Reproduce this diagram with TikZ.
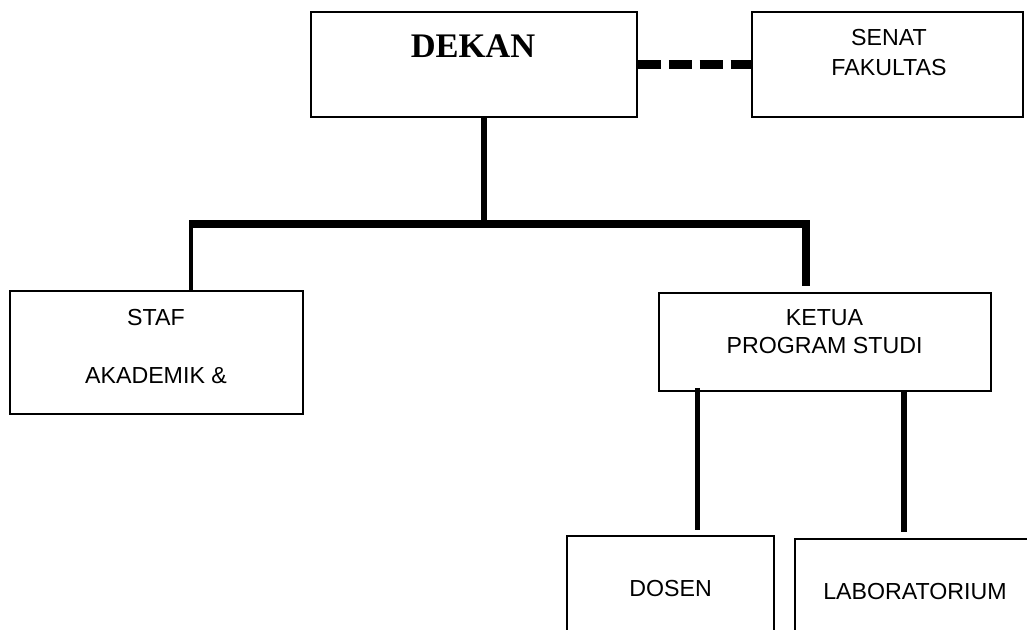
\documentclass[tikz,border=0pt]{standalone}
\usepackage{fontspec}
\newfontfamily\arialfont{Liberation Sans}
\newfontfamily\seriffont{Liberation Serif}
\usetikzlibrary{calc}
\tikzset{
    block/.style = {draw, rectangle, line width=1.1pt, inner sep=0pt},
    caption/.style = {align=center, inner sep=0pt, font=\arialfont\fontsize{16.5}{20}\selectfont},
    title/.style = {inner sep=0pt, font=\seriffont\bfseries\fontsize{24.5}{29}\selectfont},
    link/.style = {line width=3.6pt},
    bar/.style = {line width=5.7pt},
    dashlink/.style = {line width=5.7pt, dash pattern=on 16.3pt off 5.7pt}
}

\begin{document}
\begin{tikzpicture}[x=0.025cm, y=-0.025cm]
    \useasboundingbox (0,0) rectangle (1027,630);
    \clip (0,0) rectangle (1027,630);
    % Kotak
    \node [block, minimum width=8.15cm, minimum height=2.625cm] (dekan) at (474,64.5) {};
    \node [block, minimum width=6.775cm, minimum height=2.625cm] (senat) at (887.5,64.5) {};
    \node [block, minimum width=7.325cm, minimum height=3.075cm] (staf) at (156.5,352.5) {};
    \node [block, minimum width=8.3cm, minimum height=2.45cm] (kaprodi) at (825,342) {};
    \node [block, minimum width=5.175cm, minimum height=3.1cm] (dosen) at (670.5,598) {};
    \node [block, minimum width=6.625cm, minimum height=3.025cm] (lab) at (927.5,599.5) {};
    % Teks
    \node [title] (dekantext) at (473,46) {DEKAN};
    \node [caption] (senattext) at (889,52.5) {SENAT\\[2pt]FAKULTAS};
    \node [caption] (staftext) at (156,346.5) {STAF\\[21.3pt]AKADEMIK \&};
    \node [caption] (kaproditext) at (824.5,331.5) {KETUA\\PROGRAM STUDI};
    \node [caption] (dosentext) at (670.5,588.5) {DOSEN};
    \node [caption] (labtext) at (915,591.5) {LABORATORIUM};
    % Garis
    \coordinate (junction) at (484,224);
    \coordinate (stafup) at ($(staf.north)+(34.5,0)$);
    \coordinate (prodiup) at ($(kaprodi.north)+(-19.5,0)$);
    \coordinate (dosenup) at ($(kaprodi.south)+(-127.5,0)$);
    \coordinate (labup) at ($(kaprodi.south)+(79,0)$);
    \draw [dashlink] (dekan.east) -- (senat.west);
    \draw [link] (dekan.south -| junction) -- (junction);
    \draw [bar, shorten >=4.3pt] (stafup |- junction) -- (junction) -| (prodiup);
    \draw [link, line width=3.2pt] (stafup) -- ($(stafup |- junction)+(0,-4)$);
    \draw [link, shorten >=3.5pt] ($(dosenup)+(0,-4)$) -- (dosenup |- dosen.north);
    \draw [link, shorten >=4.3pt] (labup) -- (labup |- lab.north);
\end{tikzpicture}
\end{document}
